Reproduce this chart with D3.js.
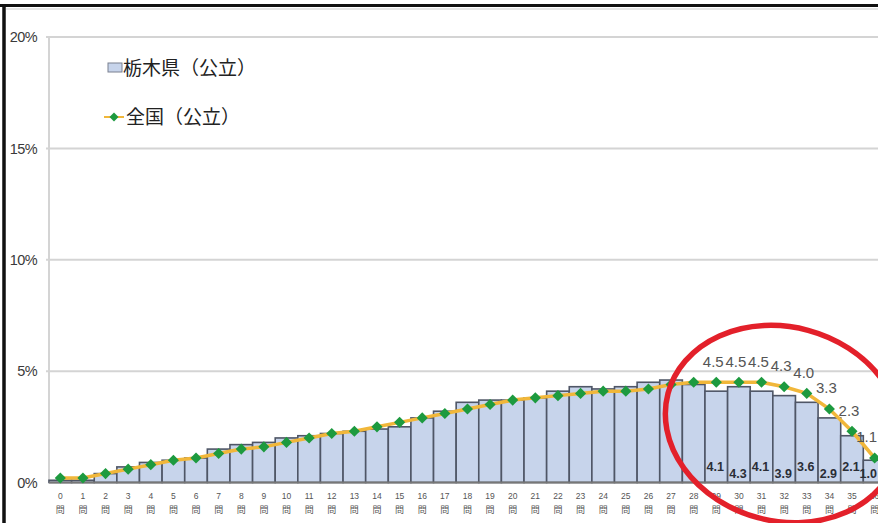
<!DOCTYPE html>
<html>
<head>
<meta charset="utf-8">
<script src="https://cdn.jsdelivr.net/npm/d3@7"></script>
<style>
  html, body { margin: 0; padding: 0; background: #fff; }
  svg { display: block; }
</style>
</head>
<body>
<svg id="chart" width="878" height="523"></svg>
<script>
// Number of correct answers (0問 … 36問)
const categories = ["0","1","2","3","4","5","6","7","8","9","10","11","12","13","14","15","16","17","18",
  "19","20","21","22","23","24","25","26","27","28","29","30","31","32","33","34","35","36"];
// Share of students (%) – Tochigi public schools (bars)
const tochigi = [0.1,0.1,0.4,0.7,0.9,1.0,1.1,1.5,1.7,1.8,2.0,2.1,2.2,2.3,2.4,2.5,2.9,3.2,3.6,3.7,3.7,3.8,
  4.1,4.3,4.2,4.3,4.5,4.6,4.4,4.1,4.3,4.1,3.9,3.6,2.9,2.1,1.0];
// Share of students (%) – national public schools (line)
const national = [0.2,0.2,0.4,0.6,0.8,1.0,1.1,1.3,1.5,1.6,1.8,2.0,2.2,2.3,2.5,2.7,2.9,3.1,3.3,3.5,3.7,3.8,
  3.9,4.0,4.1,4.1,4.2,4.4,4.5,4.5,4.5,4.5,4.3,4.0,3.3,2.3,1.1];
const yTicks = [0, 5, 10, 15, 20];
const seriesNames = ["栃木県（公立）", "全国（公立）"];
const labelFrom = 29; // values are printed from 29問 onwards

const svg = d3.select("#chart");
const W = 878, H = 523;
const left = 49, bandW = 22.62;

const x = d3.scaleBand().domain(categories).range([left, left + bandW * categories.length]).padding(0);
const y = d3.scaleLinear().domain([0, 20]).range([482.5, 37]);
const cx = d => x(d) + x.bandwidth() / 2;

const barFill = "#c7d4eb", barStroke = "#4f5666";
const lineColor = "#f1b73a", dotColor = "#1d9a3f";
const jp = "'Noto Sans CJK JP', 'Noto Sans', sans-serif";
const latin = "'Liberation Sans', Arial, sans-serif";

// keep a label inside the drawing area
function keepInside(sel) {
  sel.each(function() {
    const t = d3.select(this);
    const w = this.getComputedTextLength();
    const xx = +t.attr("x");
    if (xx + w / 2 > W - 1) t.attr("x", W - 1 - w / 2);
  });
}

// outer frame
svg.append("line").attr("x1", 0).attr("x2", W).attr("y1", 5.5).attr("y2", 5.5)
  .attr("stroke", "#111").attr("stroke-width", 3);
svg.append("line").attr("x1", 4).attr("x2", 4).attr("y1", 4).attr("y2", H)
  .attr("stroke", "#111").attr("stroke-width", 3.5);
svg.append("line").attr("x1", 6).attr("x2", W).attr("y1", 9).attr("y2", 9)
  .attr("stroke", "#ddd").attr("stroke-width", 1.5);

// gridlines and plot frame
svg.append("g").selectAll("line").data(yTicks.filter(t => t > 0)).join("line")
  .attr("x1", left - 3).attr("x2", W).attr("y1", d => y(d)).attr("y2", d => y(d))
  .attr("stroke", "#d4d4d4").attr("stroke-width", 2);
svg.append("line").attr("x1", left).attr("x2", left).attr("y1", y(20)).attr("y2", y(0))
  .attr("stroke", "#d4d4d4").attr("stroke-width", 2);

// y axis labels
const yAxis = d3.axisLeft(y).tickValues(yTicks).tickFormat(d => d + "%").tickSize(0).tickPadding(0);
const gy = svg.append("g").attr("transform", "translate(37,0)").call(yAxis);
gy.select(".domain").remove();
gy.selectAll("text").attr("font-family", latin).attr("font-size", 14.5).attr("fill", "#3a3a3a")
  .attr("letter-spacing", -0.6);

// bars
svg.append("g").selectAll("rect").data(tochigi).join("rect")
  .attr("x", (d, i) => x(categories[i]))
  .attr("y", d => y(d))
  .attr("width", x.bandwidth())
  .attr("height", d => y(0) - y(d))
  .attr("fill", barFill).attr("stroke", barStroke).attr("stroke-width", 1.6);

// baseline
svg.append("line").attr("x1", left).attr("x2", W).attr("y1", y(0)).attr("y2", y(0))
  .attr("stroke", "#777").attr("stroke-width", 2);

// x axis labels: number + 問
const xAxis = d3.axisBottom(x).tickSize(0).tickPadding(0).tickFormat("");
const gx = svg.append("g").attr("transform", `translate(0,${y(0)})`).call(xAxis);
gx.select(".domain").remove();
gx.selectAll(".tick").each(function(d) {
  const t = d3.select(this);
  t.append("text").attr("y", 16).attr("text-anchor", "middle")
    .attr("font-family", latin).attr("font-size", 8.5).attr("fill", "#555").text(d);
  t.append("text").attr("y", 30).attr("text-anchor", "middle")
    .attr("font-family", jp).attr("font-size", 9).attr("fill", "#555").text("問");
});

// national line
const line = d3.line().x((d, i) => cx(categories[i])).y(d => y(d));
svg.append("path").datum(national).attr("d", line)
  .attr("fill", "none").attr("stroke", lineColor).attr("stroke-width", 3.5);

// square markers turned 45° (equal width and height)
const diamond = d3.symbol().type(d3.symbolSquare).size(62);
svg.append("g").selectAll("path").data(national).join("path")
  .attr("d", diamond)
  .attr("transform", (d, i) => `translate(${cx(categories[i])},${y(d)}) rotate(45)`)
  .attr("fill", dotColor);

// value labels for the national line
const idx = d3.range(labelFrom, categories.length);
svg.append("g").selectAll("text").data(idx).join("text")
  .attr("x", i => cx(categories[i]) - 3)
  .attr("y", i => y(national[i]) - 21)
  .attr("dy", "0.35em").attr("text-anchor", "middle")
  .attr("font-family", latin).attr("font-size", 15).attr("fill", "#555")
  .text(i => national[i].toFixed(1))
  .call(keepInside);

// value labels inside the bars
svg.append("g").selectAll("text").data(idx).join("text")
  .attr("x", i => cx(categories[i]) - 1)
  .attr("y", i => y(0) - (i % 2 ? 16 : 9))
  .attr("dy", "0.35em").attr("text-anchor", "middle")
  .attr("font-family", latin).attr("font-size", 12.5).attr("font-weight", "bold").attr("fill", "#2a2d36")
  .text(i => tochigi[i].toFixed(1))
  .call(keepInside);

// legend
const lg = svg.append("g");
lg.append("rect").attr("x", 108).attr("y", 63).attr("width", 14).attr("height", 9)
  .attr("fill", barFill).attr("stroke", "#7a8090").attr("stroke-width", 1);
lg.append("text").attr("x", 123).attr("y", 68).attr("dy", "0.36em")
  .attr("font-family", jp).attr("font-size", 19).attr("fill", "#222").text(seriesNames[0]);
lg.append("line").attr("x1", 104).attr("x2", 124).attr("y1", 117).attr("y2", 117)
  .attr("stroke", lineColor).attr("stroke-width", 2);
lg.append("path").attr("d", d3.symbol().type(d3.symbolSquare).size(40))
  .attr("transform", "translate(114,117) rotate(45)").attr("fill", dotColor);
lg.append("text").attr("x", 126).attr("y", 117).attr("dy", "0.36em")
  .attr("font-family", jp).attr("font-size", 19).attr("fill", "#222").text(seriesNames[1]);

// highlight ring around the upper-score region
svg.append("ellipse")
  .attr("cx", 783).attr("cy", 424).attr("rx", 119).attr("ry", 97)
  .attr("transform", "rotate(15,783,424)")
  .attr("fill", "none").attr("stroke", "#e3202a").attr("stroke-width", 5.5);
</script>
</body>
</html>
